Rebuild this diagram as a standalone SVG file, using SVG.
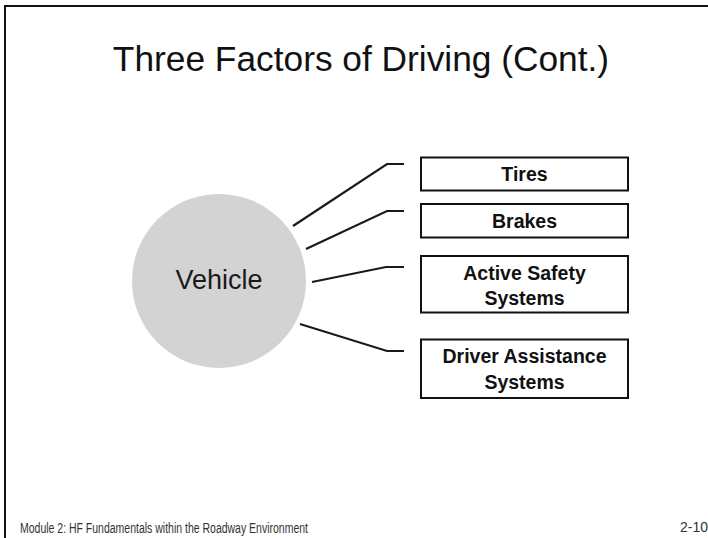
<svg xmlns="http://www.w3.org/2000/svg" width="708" height="538" viewBox="0 0 708 538">
  <style>
    .border { fill: none; stroke: #111; stroke-width: 2; }
    .box { fill: #fff; stroke: #111; stroke-width: 2; }
    .lbl { font-family: "Liberation Sans", Arial, sans-serif; font-weight: bold; font-size: 19.5px; fill: #111; text-anchor: middle; }
    .conn { fill: none; stroke: #1a1a1a; stroke-width: 2.2; stroke-linejoin: miter; }
    .title { font-family: "Liberation Sans", Arial, sans-serif; font-size: 35.3px; fill: #111; text-anchor: middle; }
    .foot { font-family: "Liberation Sans", Arial, sans-serif; font-size: 14px; fill: #333; }
  </style>
  <rect x="0" y="0" width="708" height="538" fill="#fff"/>
  <rect class="border" x="5" y="6" width="720" height="550"/>
  <text class="title" x="361" y="71">Three Factors of Driving (Cont.)</text>

  <g id="vehicle">
    <circle cx="219" cy="281" r="87" fill="#d3d3d3"/>
    <text x="219" y="289" font-family="Liberation Sans, Arial, sans-serif" font-size="27px" fill="#1a1a1a" text-anchor="middle">Vehicle</text>
  </g>

  <g id="connectors">
    <polyline class="conn" points="293,226 387,164 404,164"/>
    <polyline class="conn" points="306,249 387,211 404,211"/>
    <polyline class="conn" points="312,282 386,267 404,267"/>
    <polyline class="conn" points="300,324 387,351 404,351"/>
  </g>

  <g id="tires">
    <rect class="box" x="421" y="157.5" width="207" height="33"/>
    <text class="lbl" x="524.5" y="180.5">Tires</text>
  </g>
  <g id="brakes">
    <rect class="box" x="421" y="204" width="207" height="33.5"/>
    <text class="lbl" x="524.5" y="228">Brakes</text>
  </g>
  <g id="active-safety">
    <rect class="box" x="421" y="256" width="207" height="56.5"/>
    <text class="lbl" x="524.5" y="279.5">Active Safety</text>
    <text class="lbl" x="524.5" y="305">Systems</text>
  </g>
  <g id="driver-assistance">
    <rect class="box" x="421" y="339.5" width="207" height="58.5"/>
    <text class="lbl" x="524.5" y="362.5">Driver Assistance</text>
    <text class="lbl" x="524.5" y="389">Systems</text>
  </g>

  <text class="foot" x="20" y="533" textLength="288" lengthAdjust="spacingAndGlyphs">Module 2: HF Fundamentals within the Roadway Environment</text>
  <text class="foot" x="680" y="532" textLength="28" lengthAdjust="spacingAndGlyphs">2-10</text>
</svg>
